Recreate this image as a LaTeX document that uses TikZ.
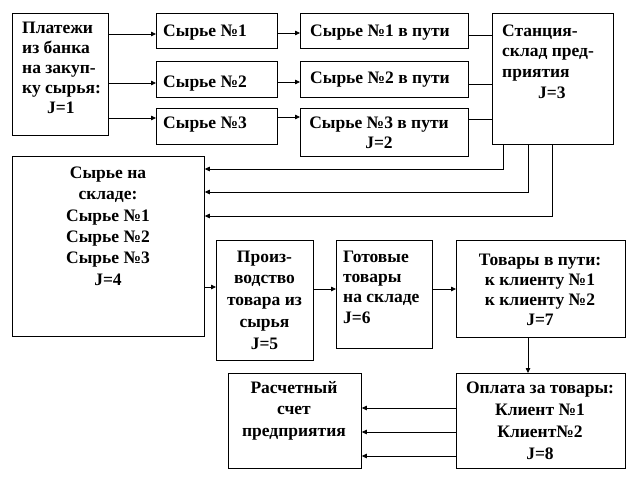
\documentclass[tikz,border=0pt]{standalone}
\usepackage{fontspec}
\setmainfont{Liberation Serif}
\usetikzlibrary{arrows.meta,calc}
\newcommand\mystrut{\rule{0pt}{13pt}}
\newcommand\myfs[1]{\bfseries\fontsize{17.5}{#1}\selectfont}
\begin{document}
\begin{tikzpicture}[x=1pt,y=-1pt,
 box/.style={draw, line width=0.8pt, anchor=north west, inner sep=0pt},
 txt/.style={inner sep=0pt, font=\myfs{20}},
 txtl/.style={txt, anchor=north west, align=left},
 txtc/.style={txt, anchor=north, align=center},
 arr/.style={line width=0.8pt, -{Triangle[length=5pt,width=4.5pt]}},
 ln/.style={line width=0.8pt}]
\useasboundingbox[fill=white] (0,0) rectangle (636,492);
% boxes
\node[box, minimum width=96pt, minimum height=122pt] (p) at (12,13) {};
\node[box, minimum width=121pt, minimum height=35pt] (s1) at (156,13) {};
\node[box, minimum width=121pt, minimum height=36pt] (s2) at (156,61) {};
\node[box, minimum width=121pt, minimum height=36pt] (s3) at (156,108) {};
\node[box, minimum width=168pt, minimum height=35pt] (t1) at (300,13) {};
\node[box, minimum width=168pt, minimum height=36pt] (t2) at (300,61) {};
\node[box, minimum width=168pt, minimum height=48pt] (t3) at (300,108) {};
\node[box, minimum width=121pt, minimum height=131pt] (st) at (492,13) {};
\node[box, minimum width=192pt, minimum height=180pt] (sk) at (12,156) {};
\node[box, minimum width=97pt, minimum height=120pt] (pr) at (216,240) {};
\node[box, minimum width=96pt, minimum height=108pt] (g) at (336,240) {};
\node[box, minimum width=169pt, minimum height=97pt] (tv) at (456,240) {};
\node[box, minimum width=169pt, minimum height=95pt] (op) at (456,373) {};
\node[box, minimum width=133pt, minimum height=95pt] (ras) at (228,373) {};
% texts
\node[txtl] (pT) at (22,20) {\mystrut Платежи\\из банка\\на закуп-\\ку сырья:\\\hspace*{25pt}J=1};
\node[txtl] (s1T) at (163,23) {\mystrut Сырье №1};
\node[txtl] (s2T) at (163,74) {\mystrut Сырье №2};
\node[txtl] (s3T) at (163,115) {\mystrut Сырье №3};
\node[txtl] (t1T) at (310,23) {\mystrut Сырье №1 в пути};
\node[txtl] (t2T) at (310,70) {\mystrut Сырье №2 в пути};
\node[txtc] (t3T) at (379,115) {\mystrut Сырье №3 в пути\\J=2};
\node[txtl, font=\myfs{20.7}] (stT) at (502,23) {\mystrut Станция-\\склад пред-\\приятия\\\hspace*{36pt}J=3};
\node[txtc, font=\myfs{21.4}] (skT) at (108,165) {\mystrut Сырье на\\складе:\\Сырье №1\\Сырье №2\\Сырье №3\\J=4};
\node[txtc, font=\myfs{21.7}] (prT) at (264.5,249) {\mystrut Произ-\\водство\\товара из\\сырья\\J=5};
\node[txtl, font=\myfs{20.3}] (gT) at (343,249) {\mystrut Готовые\\товары\\на складе\\J=6};
\node[txtc] (tvT) at (540,252) {\mystrut Товары в пути:\\к клиенту №1\\к клиенту №2\\J=7};
\node[txtc, font=\myfs{22}] (opT) at (540,380) {\mystrut Оплата за товары:\\Клиент №1\\Клиент№2\\J=8};
\node[txtc, font=\myfs{21.7}] (rasT) at (294,380) {\mystrut Расчетный\\счет\\предприятия};
% connectors
\draw[arr] ([yshift=-21pt]p.north east) coordinate (a1) -- (a1 -| s1.west);
\draw[arr] ([yshift=-70pt]p.north east) coordinate (a2) -- (a2 -| s2.west);
\draw[arr] ([yshift=-105pt]p.north east) coordinate (a3) -- (a3 -| s3.west);
\draw[arr] ([yshift=-20pt]s1.north east) coordinate (b1) -- (b1 -| t1.west);
\draw[arr] ([yshift=-21pt]s2.north east) coordinate (b2) -- (b2 -| t2.west);
\draw[arr] ([yshift=-9pt]s3.north east) coordinate (b3) -- (b3 -| t3.west);
\draw[ln] ([yshift=-22pt]t1.north east) coordinate (c1) -- (c1 -| st.west);
\draw[ln] ([yshift=-23pt]t2.north east) coordinate (c2) -- (c2 -| st.west);
\draw[ln] ([yshift=-11pt]t3.north east) coordinate (c3) -- (c3 -| st.west);
\draw[arr] ([xshift=11pt]st.south west) |- ([yshift=-13pt]sk.north east);
\draw[arr] ([xshift=36pt]st.south west) |- ([yshift=-36pt]sk.north east);
\draw[arr] ([xshift=60pt]st.south west) |- ([yshift=-60pt]sk.north east);
\draw[arr] ([yshift=-131pt]sk.north east) coordinate (d1) -- (d1 -| pr.west);
\draw[arr] ([yshift=-49pt]pr.north east) coordinate (d2) -- (d2 -| g.west);
\draw[arr] ([yshift=-49pt]g.north east) coordinate (d3) -- (d3 -| tv.west);
\draw[arr] ([xshift=72pt]tv.south west) coordinate (e1) -- (e1 |- op.north);
\draw[arr] ([yshift=-35pt]op.north west) coordinate (f1) -- (f1 -| ras.east);
\draw[arr] ([yshift=-59pt]op.north west) coordinate (f2) -- (f2 -| ras.east);
\draw[arr] ([yshift=-83pt]op.north west) coordinate (f3) -- (f3 -| ras.east);
\end{tikzpicture}
\end{document}
